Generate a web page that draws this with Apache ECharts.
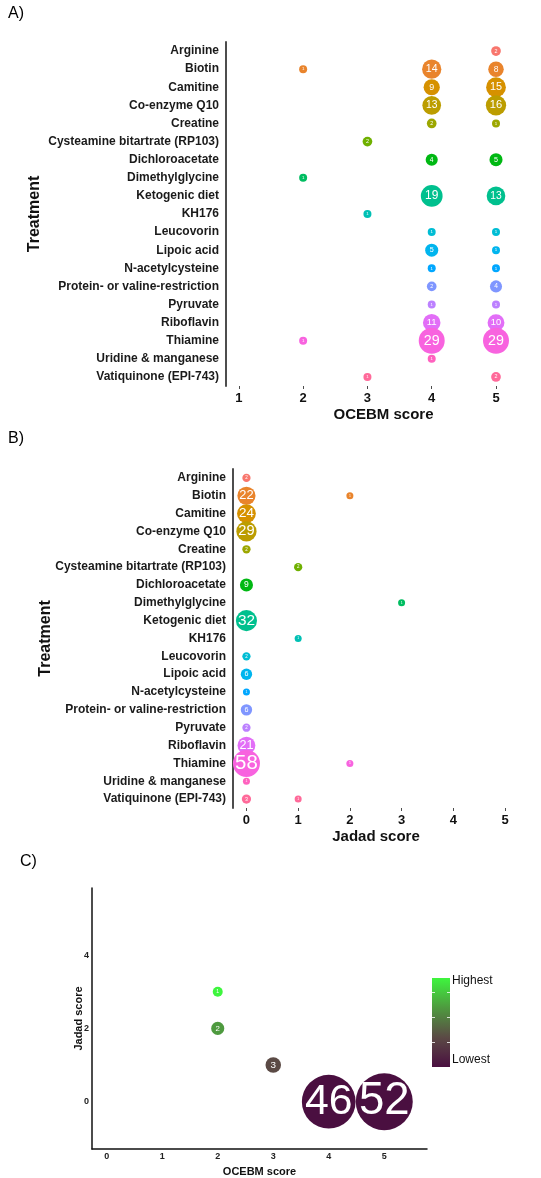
<!DOCTYPE html>
<html>
<head>
<meta charset="utf-8">
<script src="https://cdn.jsdelivr.net/npm/echarts@6/dist/echarts.min.js"></script>
<style>
  html, body { margin: 0; padding: 0; background: #fff; }
  #main { width: 541px; height: 1178px; }
</style>
</head>
<body>
<div id="main"></div>
<script>
const treatments = [
  "Arginine", "Biotin", "Camitine", "Co-enzyme Q10", "Creatine",
  "Cysteamine bitartrate (RP103)", "Dichloroacetate", "Dimethylglycine",
  "Ketogenic diet", "KH176", "Leucovorin", "Lipoic acid", "N-acetylcysteine",
  "Protein- or valine-restriction", "Pyruvate", "Riboflavin", "Thiamine",
  "Uridine & manganese", "Vatiquinone (EPI-743)"
];

// A) number of studies per treatment at OCEBM score 1..5
const ocebmScores = [1, 2, 3, 4, 5];
const ocebmCounts = [
  [0, 0, 0, 0, 2],
  [0, 1, 0, 14, 8],
  [0, 0, 0, 9, 15],
  [0, 0, 0, 13, 16],
  [0, 0, 0, 2, 1],
  [0, 0, 2, 0, 0],
  [0, 0, 0, 4, 5],
  [0, 1, 0, 0, 0],
  [0, 0, 0, 19, 13],
  [0, 0, 1, 0, 0],
  [0, 0, 0, 1, 1],
  [0, 0, 0, 5, 1],
  [0, 0, 0, 1, 1],
  [0, 0, 0, 2, 4],
  [0, 0, 0, 1, 1],
  [0, 0, 0, 11, 10],
  [0, 1, 0, 29, 29],
  [0, 0, 0, 1, 0],
  [0, 0, 1, 0, 2]
];

// B) number of studies per treatment at Jadad score 0..5
const jadadScores = [0, 1, 2, 3, 4, 5];
const jadadCounts = [
  [2, 0, 0, 0, 0, 0],
  [22, 0, 1, 0, 0, 0],
  [24, 0, 0, 0, 0, 0],
  [29, 0, 0, 0, 0, 0],
  [2, 0, 0, 0, 0, 0],
  [0, 2, 0, 0, 0, 0],
  [9, 0, 0, 0, 0, 0],
  [0, 0, 0, 1, 0, 0],
  [32, 0, 0, 0, 0, 0],
  [0, 1, 0, 0, 0, 0],
  [2, 0, 0, 0, 0, 0],
  [6, 0, 0, 0, 0, 0],
  [1, 0, 0, 0, 0, 0],
  [6, 0, 0, 0, 0, 0],
  [2, 0, 0, 0, 0, 0],
  [21, 0, 0, 0, 0, 0],
  [58, 0, 1, 0, 0, 0],
  [1, 0, 0, 0, 0, 0],
  [3, 1, 0, 0, 0, 0]
];

// C) OCEBM score vs Jadad score
const cOcebm = [2, 2, 3, 4, 5];
const cJadad = [3, 2, 1, 0, 0];
const cCounts = [1, 2, 3, 46, 52];

const xTicksA = [1, 2, 3, 4, 5];
const xTicksB = [0, 1, 2, 3, 4, 5];
const xTicksC = [0, 1, 2, 3, 4, 5];
const yTicksC = [0, 2, 4];

// ggplot-like hue palette
function hcl(h, c, l) {
  const hr = h * Math.PI / 180;
  const U = c * Math.cos(hr), V = c * Math.sin(hr);
  const Xn = 95.047, Yn = 100, Zn = 108.883;
  const Y = l > 8 ? Yn * Math.pow((l + 16) / 116, 3) : Yn * l / 903.3;
  const den = Xn + 15 * Yn + 3 * Zn;
  const up = U / (13 * l) + 4 * Xn / den;
  const vp = V / (13 * l) + 9 * Yn / den;
  const X = Y * 9 * up / (4 * vp);
  const Z = Y * (12 - 3 * up - 20 * vp) / (4 * vp);
  const x = X / 100, y = Y / 100, z = Z / 100;
  const lin = [
    3.240479 * x - 1.537150 * y - 0.498535 * z,
    -0.969256 * x + 1.875992 * y + 0.041556 * z,
    0.055648 * x - 0.204043 * y + 1.057311 * z
  ];
  const rgb = lin.map(v => {
    v = v <= 0.0031308 ? 12.92 * v : 1.055 * Math.pow(v, 1 / 2.4) - 0.055;
    return Math.round(Math.max(0, Math.min(1, v)) * 255);
  });
  return "rgb(" + rgb.join(",") + ")";
}
const palette = treatments.map((t, i) => hcl(15 + i * 360 / treatments.length, 100, 65));

function bubbleData(counts, scores, sizeFn, fontFn) {
  let out = [];
  treatments.forEach((t, i) => {
    scores.forEach((s, j) => {
      const n = counts[i][j];
      if (n > 0) {
        const d = sizeFn(n);
        out.push({
          value: [s, i, n],
          symbolSize: d,
          itemStyle: { color: palette[i], opacity: 1 },
          label: { fontSize: fontFn(d) }
        });
      }
    });
  });
  return out;
}

const sizeA = n => 3.9 + 4.1 * Math.sqrt(n);
const sizeB = n => 4 + 3.02 * Math.sqrt(n);
const sizeC = n => 2.4 + 7.57 * Math.sqrt(n);

const dataA = bubbleData(ocebmCounts, ocebmScores, sizeA, d => Math.max(3, d * 0.55));
const dataB = bubbleData(jadadCounts, jadadScores, sizeB, d => Math.max(3, (d - 3) * 0.85));
const dataC = cCounts.map((n, i) => {
  const d = sizeC(n);
  return { value: [cOcebm[i], cJadad[i], n], symbolSize: d, label: { fontSize: Math.max(4, (d - 4) * 0.86) } };
});

const cScale = ["#4A0F40", "#5B4A45", "#4E9A3F", "#3EF53E"];

const font = "Liberation Sans, Arial, sans-serif";
const axisGrey = { color: "#4d4d4d", width: 2 };

function catAxis(gridIndex, nameGap) {
  return {
    gridIndex: gridIndex,
    type: "category",
    data: treatments,
    inverse: true,
    axisLine: { onZero: false, lineStyle: axisGrey },
    axisTick: { alignWithLabel: true, length: 3, lineStyle: { color: "#4d4d4d", width: 1 } },
    axisLabel: { fontSize: 12, fontWeight: "bold", color: "#1a1a1a", margin: 7, interval: 0 },
    splitLine: { show: false },
    name: "Treatment",
    nameLocation: "middle",
    nameRotate: 90,
    nameGap: nameGap,
    nameMoveOverlap: false,
    nameTextStyle: { fontSize: 16, fontWeight: "bold", color: "#111" }
  };
}

function valAxis(gridIndex, min, max, ticks, name) {
  return {
    gridIndex: gridIndex,
    type: "value",
    min: min,
    max: max,
    axisLine: { onZero: false, lineStyle: axisGrey },
    axisTick: { show: true, length: 3, customValues: ticks, lineStyle: { color: "#4d4d4d", width: 1 } },
    axisLabel: { customValues: ticks, fontSize: 13, fontWeight: "bold", color: "#111", margin: 6 },
    splitLine: { show: false },
    name: name,
    nameLocation: "middle",
    nameGap: 21,
    nameTextStyle: { fontSize: 15, fontWeight: "bold", color: "#111" }
  };
}

const chart = echarts.init(document.getElementById("main"));
const option = {
  animation: false,
  textStyle: { fontFamily: font },
  grid: [
    { left: 226, top: 42, width: 315, height: 344 },
    { left: 233, top: 469, width: 286, height: 339 },
    { left: 92, top: 888, width: 335, height: 267 }
  ],
  xAxis: [
    valAxis(0, 0.8, 5.7, xTicksA, "OCEBM score"),
    valAxis(1, -0.26, 5.27, xTicksB, "Jadad score"),
    {
      gridIndex: 2, type: "value", min: -0.265, max: 5.77,
      axisLine: { onZero: false, lineStyle: { color: "#111", width: 1.5 } },
      axisTick: { show: false },
      axisLabel: { customValues: xTicksC, fontSize: 9, fontWeight: "bold", color: "#222", margin: 3 },
      splitLine: { show: false },
      name: "OCEBM score", nameLocation: "middle", nameGap: 17,
      nameTextStyle: { fontSize: 11, fontWeight: "bold", color: "#111" }
    }
  ],
  yAxis: [
    catAxis(0, 183),
    catAxis(1, 179),
    {
      gridIndex: 2, type: "value", min: -1.29, max: 5.83,
      axisLine: { onZero: false, lineStyle: { color: "#111", width: 1.5 } },
      axisTick: { show: false },
      axisLabel: { customValues: yTicksC, fontSize: 9, fontWeight: "bold", color: "#222", margin: 3 },
      splitLine: { show: false },
      name: "Jadad score", nameLocation: "middle", nameRotate: 90, nameGap: 8,
      nameMoveOverlap: false,
      nameTextStyle: { fontSize: 11, fontWeight: "bold", color: "#111" }
    }
  ],
  visualMap: [{
    type: "continuous",
    show: false,
    seriesIndex: 2,
    dimension: 1,
    min: 0,
    max: 3,
    inRange: { color: cScale, opacity: 1 }
  }],
  series: [
    {
      type: "scatter", xAxisIndex: 0, yAxisIndex: 0, data: dataA,
      itemStyle: { opacity: 1 },
      label: { show: true, position: "inside", formatter: p => p.value[2], color: "#fff" }
    },
    {
      type: "scatter", xAxisIndex: 1, yAxisIndex: 1, data: dataB,
      itemStyle: { opacity: 1 },
      label: { show: true, position: "inside", formatter: p => p.value[2], color: "#fff" }
    },
    {
      type: "scatter", xAxisIndex: 2, yAxisIndex: 2, data: dataC,
      itemStyle: { opacity: 1 },
      label: { show: true, position: "inside", formatter: p => p.value[2], color: "#fff" }
    }
  ],
  graphic: [
    { type: "text", left: 8, top: 6, style: { text: "A)", fontSize: 16, fontFamily: font, fill: "#000" } },
    { type: "text", left: 8, top: 431, style: { text: "B)", fontSize: 16, fontFamily: font, fill: "#000" } },
    { type: "text", left: 20, top: 854, style: { text: "C)", fontSize: 16, fontFamily: font, fill: "#000" } },
    {
      type: "rect", left: 432, top: 978,
      shape: { width: 18, height: 89 },
      style: {
        fill: {
          type: "linear", x: 0, y: 1, x2: 0, y2: 0,
          colorStops: cScale.map((c, i) => ({ offset: i / (cScale.length - 1), color: c }))
        }
      }
    },
    { type: "rect", left: 432, top: 992, shape: { width: 3, height: 0.8 }, style: { fill: "#fff" } },
    { type: "rect", left: 447, top: 992, shape: { width: 3, height: 0.8 }, style: { fill: "#fff" } },
    { type: "rect", left: 432, top: 1017, shape: { width: 3, height: 0.8 }, style: { fill: "#fff" } },
    { type: "rect", left: 447, top: 1017, shape: { width: 3, height: 0.8 }, style: { fill: "#fff" } },
    { type: "rect", left: 432, top: 1042, shape: { width: 3, height: 0.8 }, style: { fill: "#fff" } },
    { type: "rect", left: 447, top: 1042, shape: { width: 3, height: 0.8 }, style: { fill: "#fff" } },
    { type: "text", left: 452, top: 975, style: { text: "Highest", fontSize: 12, fontFamily: font, fill: "#111" } },
    { type: "text", left: 452, top: 1054, style: { text: "Lowest", fontSize: 12, fontFamily: font, fill: "#111" } }
  ]
};
chart.setOption(option);
</script>
</body>
</html>
